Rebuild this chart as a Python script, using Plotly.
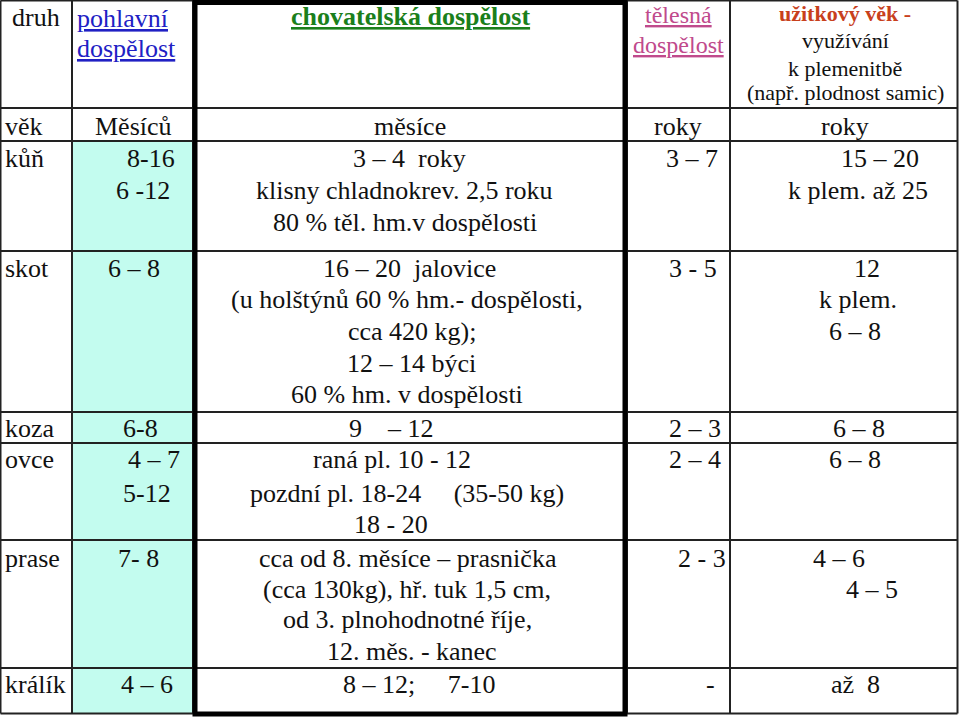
import plotly.graph_objects as go

# ---------------- data (table content) ----------------
species = ["kůň", "skot", "koza", "ovce", "prase", "králík"]
sexual_maturity = [["8-16", "6 -12"], ["6 – 8"], ["6-8"], ["4 – 7", "5-12"], ["7- 8"], ["4 – 6"]]
breeding_maturity = [
    ["3 – 4\u00a0 roky", "klisny chladnokrev. 2,5 roku", "80 % těl. hm.v dospělosti"],
    ["16 – 20\u00a0 jalovice", "(u holštýnů 60 % hm.- dospělosti,", "cca 420 kg);", "12 – 14 býci", "60 % hm. v dospělosti"],
    ["9\u00a0\u00a0\u00a0 – 12"],
    ["raná pl. 10 - 12", "pozdní pl. 18-24\u00a0\u00a0\u00a0\u00a0 (35-50 kg)", "18 - 20"],
    ["cca od 8. měsíce – prasnička", "(cca 130kg), hř. tuk 1,5 cm,", "od 3. plnohodnotné říje,", "12. měs. - kanec"],
    ["8 – 12;\u00a0\u00a0\u00a0\u00a0 7-10"],
]
body_maturity = [["3 – 7"], ["3 - 5"], ["2 – 3"], ["2 – 4"], ["2 - 3"], ["-"]]
useful_age = [["15 – 20", "k plem. až 25"], ["12", "k plem.", "6 – 8"], ["6 – 8"], ["6 – 8"], ["4 – 6", "4 – 5"], ["až\u00a0 8"]]
units = ["věk", "Měsíců", "měsíce", "roky", "roky"]
header_sexual = ["pohlavní", "dospělost"]
header_breeding = "chovatelská dospělost"
header_body = ["tělesná", "dospělost"]
header_useful = ["užitkový věk -", "využívání", "k plemenitbě", "(např. plodnost samic)"]

# ---------------- layout (positions / styles) ----------------
W, H = 960, 719
col_edges = [0.5, 72, 193, 627, 730, 957.5]
row_edges = [0.5, 108, 141, 251, 412, 443, 540, 668, 713.5]
row_baselines = [[167, 199, 231], [277, 308, 340, 372, 403], [437], [468, 502, 533], [567, 598, 628, 660], [693]]
x_sexual = [[126, 115], [107], [122], [127, 122], [117], [120]]
x_breeding = [[352, 255, 272], [322, 230, 347, 346, 290], [348], [312, 249, 353], [258, 262, 282, 326], [342]]
x_body = [[665], [668], [668], [668], [677], [705]]
x_useful = [[840, 787], [853, 818, 828], [832], [828], [812, 845], [830]]
units_x = [4, 94, 373, 653, 820]
FS = 26
FONT = "Liberation Serif"
TXT = "#111111"
LINE = "#222222"
CYAN = "#c3fcef"
BLUE = "#2020c4"
GREEN = "#1b7f1b"
PINK = "#c04a8c"
RED = "#c8401c"


def y_mid(baseline, fs=FS):
    return baseline - 0.32 * fs


fig = go.Figure()
fig.add_trace(go.Scatter(x=[0, W], y=[0, H], mode="markers", marker=dict(opacity=0), hoverinfo="skip", showlegend=False))

shapes = []
# cyan fill of the "pohlavní dospělost" column body
shapes.append(dict(type="rect", xref="x", yref="y", x0=col_edges[1], x1=col_edges[2], y0=row_edges[2], y1=row_edges[-1],
                   fillcolor=CYAN, line=dict(width=0), layer="below"))
# horizontal lines
for yv in row_edges:
    shapes.append(dict(type="line", xref="x", yref="y", x0=col_edges[0], x1=col_edges[-1], y0=yv, y1=yv,
                       line=dict(color=LINE, width=2)))
# vertical lines
for xv in col_edges:
    shapes.append(dict(type="line", xref="x", yref="y", x0=xv, x1=xv, y0=row_edges[0], y1=row_edges[-1],
                       line=dict(color=LINE, width=2)))
# thick frame around the "chovatelská dospělost" column
shapes.append(dict(type="rect", xref="x", yref="y", x0=195, x1=625, y0=2.5, y1=714,
                   line=dict(color="#000000", width=5)))

ann = []


def add(text, x, baseline, xanchor="left", size=FS, color=TXT):
    ann.append(dict(text=text, x=x, y=y_mid(baseline, size), xref="x", yref="y", xanchor=xanchor, yanchor="middle",
                    showarrow=False, borderpad=0, font=dict(family=FONT, size=size, color=color)))


# headers
add("druh", 36, 26, "center")
add("<u>" + header_sexual[0] + "</u>", 76, 27, color=BLUE)
add("<u>" + header_sexual[1] + "</u>", 76, 57, color=BLUE)
add("<u><b>" + header_breeding + "</b></u>", 410, 25, "center", color=GREEN)
add("<u>" + header_body[0] + "</u>", 678, 23, "center", size=24, color=PINK)
add("<u>" + header_body[1] + "</u>", 678, 53, "center", size=24, color=PINK)
add("<b>" + header_useful[0] + "</b>", 845, 21, "center", size=22, color=RED)
for t, b in zip(header_useful[1:], [48, 76, 100]):
    add(t, 845, b, "center", size=22)

# units row
for t, xv in zip(units, units_x):
    add(t, xv, 135)

# body rows
for i, sp in enumerate(species):
    bl = row_baselines[i]
    add(sp, 4, bl[0])
    for j, t in enumerate(sexual_maturity[i]):
        add(t, x_sexual[i][j], bl[j])
    for j, t in enumerate(breeding_maturity[i]):
        add(t, x_breeding[i][j], bl[j])
    for j, t in enumerate(body_maturity[i]):
        add(t, x_body[i][j], bl[j])
    for j, t in enumerate(useful_age[i]):
        add(t, x_useful[i][j], bl[j])

fig.update_layout(
    width=W, height=H, margin=dict(l=0, r=0, t=0, b=0),
    paper_bgcolor="white", plot_bgcolor="white",
    font=dict(family=FONT),
    xaxis=dict(range=[0, W], visible=False, fixedrange=True),
    yaxis=dict(range=[H, 0], visible=False, fixedrange=True),
    shapes=shapes, annotations=ann, showlegend=False,
)
fig.write_html("out.html", config={"displayModeBar": False},
               post_script="document.body.style.margin='0';document.body.style.overflow='hidden';")
